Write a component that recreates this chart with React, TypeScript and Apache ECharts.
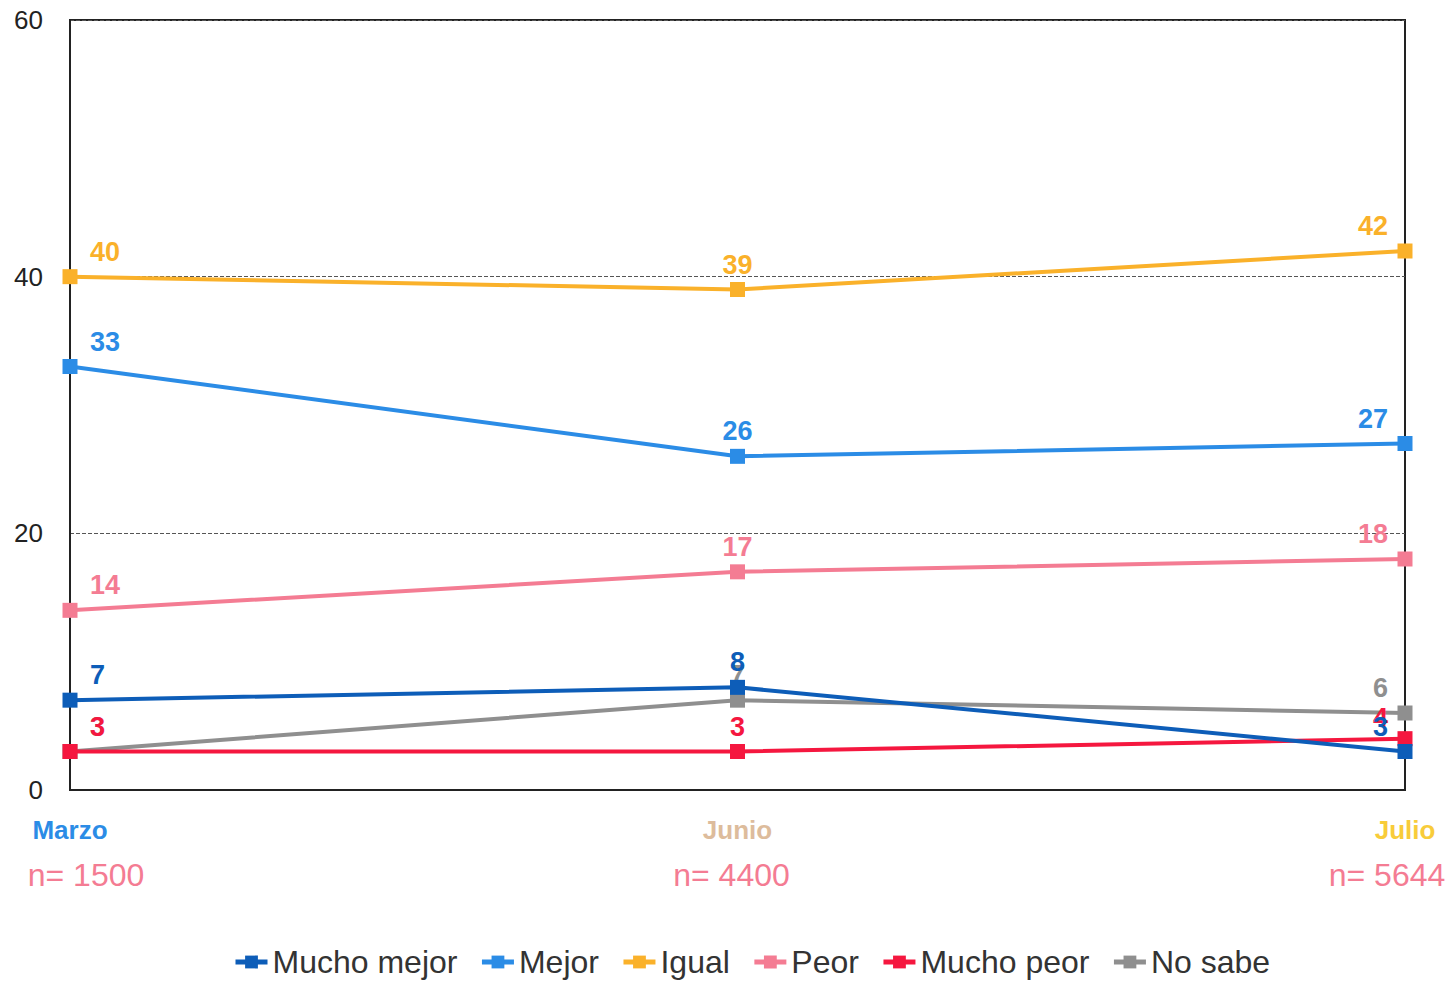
import React, { useEffect, useRef } from "react";
import * as echarts from "echarts";

const categories = ["Marzo", "Junio", "Julio"];
const sampleSizes = ["n= 1500", "n= 4400", "n= 5644"];
const seriesNames = ["Mucho mejor", "Mejor", "Igual", "Peor", "Mucho peor", "No sabe"];
const muchoMejor = [7, 8, 3];
const mejor = [33, 26, 27];
const igual = [40, 39, 42];
const peor = [14, 17, 18];
const muchoPeor = [3, 3, 4];
const noSabe = [3, 7, 6];
const yTicks = { min: 0, max: 60, interval: 20 };

const colors = ["#0D5DB8", "#2B8CE6", "#FAB12A", "#F47C93", "#F5173F", "#8F8F8F"];
const zOrder = [6, 5, 4, 3, 2, 1];
const FONT = "'Liberation Sans', Arial, sans-serif";

export default function App() {
  const ref = useRef<HTMLDivElement>(null);
  useEffect(() => {
    if (!ref.current) return;
    const chart = echarts.init(ref.current, null, { renderer: "svg" });
    const all = [muchoMejor, mejor, igual, peor, muchoPeor, noSabe];
    const series = all.map((vals, si) => ({
      name: seriesNames[si],
      type: "line",
      z: zOrder[si],
      symbol: "rect",
      symbolSize: 15,
      lineStyle: { width: 4, color: colors[si] },
      itemStyle: { color: colors[si] },
      data: vals.map((v, i) => ({
        value: v,
        label: {
          show: true,
          position: "top",
          distance: si === 4 && i === 2 ? 0 : 4,
          align: i === 0 ? "left" : i === 2 ? "right" : "center",
          offset: i === 0 ? [20, 0] : i === 2 ? [-17, 0] : [0, 0],
        },
      })),
      label: {
        color: colors[si],
        fontSize: 27,
        fontWeight: "bold",
        fontFamily: FONT,
      },
    }));
    chart.setOption({
      animation: false,
      backgroundColor: "#fff",
      grid: {
        left: 70,
        right: 51,
        top: 20,
        bottom: 193,
        containLabel: false,
        outerBoundsMode: "none",
        show: true,
        borderColor: "#222",
        borderWidth: 2,
      },
      legend: {
        bottom: 0,
        left: 228,
        itemWidth: 32,
        itemHeight: 16,
        itemGap: 22,
        lineStyle: { width: 5 },
        textStyle: { fontSize: 32, color: "#333", fontFamily: FONT },
        data: seriesNames,
      },
      xAxis: {
        type: "category",
        data: categories,
        boundaryGap: false,
        axisLine: { show: true, lineStyle: { color: "#222", width: 2 } },
        axisTick: { show: false },
        axisLabel: {
          interval: 0,
          margin: 20,
          formatter: (val: string, idx: number) =>
            `{c${idx}|${val}}\n{n${idx}|${sampleSizes[idx]}}`,
          rich: {
            c0: { color: "#2B8CE6", fontSize: 26, fontWeight: "bold", fontFamily: FONT, lineHeight: 40 },
            c1: { color: "#DDBC9C", fontSize: 26, fontWeight: "bold", fontFamily: FONT, lineHeight: 40 },
            c2: { color: "#F8CC3A", fontSize: 26, fontWeight: "bold", fontFamily: FONT, lineHeight: 40 },
            n0: { color: "#F47C93", fontSize: 32, fontFamily: FONT, lineHeight: 50, padding: [0, 0, 0, 32] },
            n1: { color: "#F47C93", fontSize: 32, fontFamily: FONT, lineHeight: 50, padding: [0, 12, 0, 0] },
            n2: { color: "#F47C93", fontSize: 32, fontFamily: FONT, lineHeight: 50, padding: [0, 36, 0, 0] },
          },
        },
      },
      yAxis: {
        type: "value",
        min: yTicks.min,
        max: yTicks.max,
        interval: yTicks.interval,
        axisLine: { show: true, lineStyle: { color: "#222", width: 2 } },
        axisTick: { show: false },
        axisLabel: { color: "#222", fontSize: 26, fontFamily: FONT, margin: 27 },
        splitLine: { show: true, lineStyle: { color: "#555", type: "dashed", width: 1 } },
      },
      series,
    });
    return () => chart.dispose();
  }, []);
  return (
    <div
      ref={ref}
      style={{ position: "fixed", left: 0, top: 0, width: 1456, height: 983 }}
    />
  );
}
